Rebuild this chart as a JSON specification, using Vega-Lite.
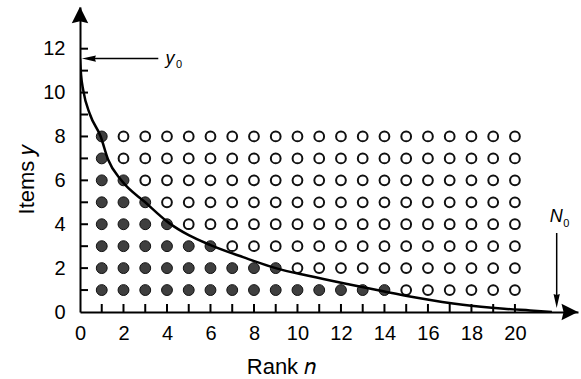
{
  "$schema": "https://vega.github.io/schema/vega-lite/v6.json",
  "width": 498,
  "height": 305,
  "autosize": "none",
  "padding": {"left": 80, "top": 7, "right": 3, "bottom": 67},
  "background": "white",
  "config": {
    "view": {"stroke": null},
    "font": "Liberation Sans",
    "axis": {
      "domainColor": "black", "domainWidth": 2,
      "grid": false, "labelFont": "Liberation Sans", "labelFontSize": 20, "labelColor": "black",
      "titleFont": "Liberation Sans", "titleFontSize": 22, "titleFontWeight": "normal", "titleColor": "black"
    }
  },
  "datasets": {
    "cells": [
      {"n":1,"y":1,"s":"f"},{"n":2,"y":1,"s":"f"},{"n":3,"y":1,"s":"f"},{"n":4,"y":1,"s":"f"},{"n":5,"y":1,"s":"f"},{"n":6,"y":1,"s":"f"},{"n":7,"y":1,"s":"f"},{"n":8,"y":1,"s":"f"},{"n":9,"y":1,"s":"f"},{"n":10,"y":1,"s":"f"},{"n":11,"y":1,"s":"f"},{"n":12,"y":1,"s":"f"},{"n":13,"y":1,"s":"f"},{"n":14,"y":1,"s":"f"},{"n":15,"y":1,"s":"o"},{"n":16,"y":1,"s":"o"},{"n":17,"y":1,"s":"o"},{"n":18,"y":1,"s":"o"},{"n":19,"y":1,"s":"o"},{"n":20,"y":1,"s":"o"},
      {"n":1,"y":2,"s":"f"},{"n":2,"y":2,"s":"f"},{"n":3,"y":2,"s":"f"},{"n":4,"y":2,"s":"f"},{"n":5,"y":2,"s":"f"},{"n":6,"y":2,"s":"f"},{"n":7,"y":2,"s":"f"},{"n":8,"y":2,"s":"f"},{"n":9,"y":2,"s":"f"},{"n":10,"y":2,"s":"o"},{"n":11,"y":2,"s":"o"},{"n":12,"y":2,"s":"o"},{"n":13,"y":2,"s":"o"},{"n":14,"y":2,"s":"o"},{"n":15,"y":2,"s":"o"},{"n":16,"y":2,"s":"o"},{"n":17,"y":2,"s":"o"},{"n":18,"y":2,"s":"o"},{"n":19,"y":2,"s":"o"},{"n":20,"y":2,"s":"o"},
      {"n":1,"y":3,"s":"f"},{"n":2,"y":3,"s":"f"},{"n":3,"y":3,"s":"f"},{"n":4,"y":3,"s":"f"},{"n":5,"y":3,"s":"f"},{"n":6,"y":3,"s":"f"},{"n":7,"y":3,"s":"o"},{"n":8,"y":3,"s":"o"},{"n":9,"y":3,"s":"o"},{"n":10,"y":3,"s":"o"},{"n":11,"y":3,"s":"o"},{"n":12,"y":3,"s":"o"},{"n":13,"y":3,"s":"o"},{"n":14,"y":3,"s":"o"},{"n":15,"y":3,"s":"o"},{"n":16,"y":3,"s":"o"},{"n":17,"y":3,"s":"o"},{"n":18,"y":3,"s":"o"},{"n":19,"y":3,"s":"o"},{"n":20,"y":3,"s":"o"},
      {"n":1,"y":4,"s":"f"},{"n":2,"y":4,"s":"f"},{"n":3,"y":4,"s":"f"},{"n":4,"y":4,"s":"f"},{"n":5,"y":4,"s":"o"},{"n":6,"y":4,"s":"o"},{"n":7,"y":4,"s":"o"},{"n":8,"y":4,"s":"o"},{"n":9,"y":4,"s":"o"},{"n":10,"y":4,"s":"o"},{"n":11,"y":4,"s":"o"},{"n":12,"y":4,"s":"o"},{"n":13,"y":4,"s":"o"},{"n":14,"y":4,"s":"o"},{"n":15,"y":4,"s":"o"},{"n":16,"y":4,"s":"o"},{"n":17,"y":4,"s":"o"},{"n":18,"y":4,"s":"o"},{"n":19,"y":4,"s":"o"},{"n":20,"y":4,"s":"o"},
      {"n":1,"y":5,"s":"f"},{"n":2,"y":5,"s":"f"},{"n":3,"y":5,"s":"f"},{"n":4,"y":5,"s":"o"},{"n":5,"y":5,"s":"o"},{"n":6,"y":5,"s":"o"},{"n":7,"y":5,"s":"o"},{"n":8,"y":5,"s":"o"},{"n":9,"y":5,"s":"o"},{"n":10,"y":5,"s":"o"},{"n":11,"y":5,"s":"o"},{"n":12,"y":5,"s":"o"},{"n":13,"y":5,"s":"o"},{"n":14,"y":5,"s":"o"},{"n":15,"y":5,"s":"o"},{"n":16,"y":5,"s":"o"},{"n":17,"y":5,"s":"o"},{"n":18,"y":5,"s":"o"},{"n":19,"y":5,"s":"o"},{"n":20,"y":5,"s":"o"},
      {"n":1,"y":6,"s":"f"},{"n":2,"y":6,"s":"f"},{"n":3,"y":6,"s":"o"},{"n":4,"y":6,"s":"o"},{"n":5,"y":6,"s":"o"},{"n":6,"y":6,"s":"o"},{"n":7,"y":6,"s":"o"},{"n":8,"y":6,"s":"o"},{"n":9,"y":6,"s":"o"},{"n":10,"y":6,"s":"o"},{"n":11,"y":6,"s":"o"},{"n":12,"y":6,"s":"o"},{"n":13,"y":6,"s":"o"},{"n":14,"y":6,"s":"o"},{"n":15,"y":6,"s":"o"},{"n":16,"y":6,"s":"o"},{"n":17,"y":6,"s":"o"},{"n":18,"y":6,"s":"o"},{"n":19,"y":6,"s":"o"},{"n":20,"y":6,"s":"o"},
      {"n":1,"y":7,"s":"f"},{"n":2,"y":7,"s":"o"},{"n":3,"y":7,"s":"o"},{"n":4,"y":7,"s":"o"},{"n":5,"y":7,"s":"o"},{"n":6,"y":7,"s":"o"},{"n":7,"y":7,"s":"o"},{"n":8,"y":7,"s":"o"},{"n":9,"y":7,"s":"o"},{"n":10,"y":7,"s":"o"},{"n":11,"y":7,"s":"o"},{"n":12,"y":7,"s":"o"},{"n":13,"y":7,"s":"o"},{"n":14,"y":7,"s":"o"},{"n":15,"y":7,"s":"o"},{"n":16,"y":7,"s":"o"},{"n":17,"y":7,"s":"o"},{"n":18,"y":7,"s":"o"},{"n":19,"y":7,"s":"o"},{"n":20,"y":7,"s":"o"},
      {"n":1,"y":8,"s":"f"},{"n":2,"y":8,"s":"o"},{"n":3,"y":8,"s":"o"},{"n":4,"y":8,"s":"o"},{"n":5,"y":8,"s":"o"},{"n":6,"y":8,"s":"o"},{"n":7,"y":8,"s":"o"},{"n":8,"y":8,"s":"o"},{"n":9,"y":8,"s":"o"},{"n":10,"y":8,"s":"o"},{"n":11,"y":8,"s":"o"},{"n":12,"y":8,"s":"o"},{"n":13,"y":8,"s":"o"},{"n":14,"y":8,"s":"o"},{"n":15,"y":8,"s":"o"},{"n":16,"y":8,"s":"o"},{"n":17,"y":8,"s":"o"},{"n":18,"y":8,"s":"o"},{"n":19,"y":8,"s":"o"},{"n":20,"y":8,"s":"o"}
    ],
    "curve": [
      {"n":0,"y":11.55},{"n":0.05,"y":10.8},{"n":0.15,"y":10.1},{"n":0.46,"y":9.0},{"n":0.95,"y":8.0},{"n":1.29,"y":6.95},{"n":1.9,"y":6.0},{"n":3.0,"y":5.0},{"n":4.1,"y":4.05},{"n":5.0,"y":3.5},{"n":6.0,"y":3.05},{"n":7.5,"y":2.5},{"n":9.0,"y":2.0},{"n":10.5,"y":1.65},{"n":12.4,"y":1.25},{"n":14.0,"y":0.93},{"n":15.5,"y":0.65},{"n":17.6,"y":0.33},{"n":19.5,"y":0.15},{"n":20.7,"y":0.07},{"n":21.7,"y":0.0}
    ],
    "xticks": [{"n":1},{"n":2},{"n":3},{"n":4},{"n":5},{"n":6},{"n":7},{"n":8},{"n":9},{"n":10},{"n":11},{"n":12},{"n":13},{"n":14},{"n":15},{"n":16},{"n":17},{"n":18},{"n":19},{"n":20}],
    "yticks": [{"y":1},{"y":2},{"y":3},{"y":4},{"y":5},{"y":6},{"y":7},{"y":8},{"y":9},{"y":10},{"y":11},{"y":12}]
  },
  "layer": [
    {"data": {"name": "cells"}, "transform": [{"filter": "datum.s == 'o'"}],
     "mark": {"type": "point", "shape": "circle", "filled": true, "fill": "white", "stroke": "#111", "strokeWidth": 2, "size": 95, "opacity": 1},
     "encoding": {
       "x": {"field": "n", "type": "quantitative", "scale": {"domain": [0, 22.9], "nice": false, "zero": false},
         "axis": {"values": [0,2,4,6,8,10,12,14,16,18,20], "ticks": false, "labelPadding": 11,
           "title": "Rank 𝑛", "titleX": 201, "titleY": 61, "titleBaseline": "alphabetic", "titleAlign": "center", "labelFlush": false, "labelOverlap": false}},
       "y": {"field": "y", "type": "quantitative", "scale": {"domain": [0, 13.9], "nice": false, "zero": false},
         "axis": {"values": [0,2,4,6,8,10,12], "ticks": false, "labelPadding": 15,
           "title": "Items 𝑦", "titleX": -47, "titleY": 172, "titleBaseline": "alphabetic", "titleAlign": "center", "labelFlush": false, "labelOverlap": false}}
     }},
    {"data": {"name": "cells"}, "transform": [{"filter": "datum.s == 'f'"}],
     "mark": {"type": "point", "shape": "circle", "filled": true, "fill": "#3f3f3f", "stroke": "#111", "strokeWidth": 1, "size": 118, "opacity": 1},
     "encoding": {"x": {"field": "n", "type": "quantitative"}, "y": {"field": "y", "type": "quantitative"}}},
    {"data": {"name": "xticks"},
     "mark": {"type": "tick", "orient": "vertical", "size": 8, "thickness": 2, "color": "black", "opacity": 1, "yOffset": -4},
     "encoding": {"x": {"field": "n", "type": "quantitative"}, "y": {"datum": 0}}},
    {"data": {"name": "yticks"},
     "mark": {"type": "tick", "orient": "horizontal", "size": 8, "thickness": 2, "color": "black", "opacity": 1, "xOffset": 4},
     "encoding": {"y": {"field": "y", "type": "quantitative"}, "x": {"datum": 0}}},
    {"data": {"name": "curve"}, "mark": {"type": "line", "interpolate": "monotone", "color": "black", "strokeWidth": 2.5, "clip": true},
     "encoding": {"x": {"field": "n", "type": "quantitative"}, "y": {"field": "y", "type": "quantitative"}}},
    {"data": {"values": [{"n": 0.41, "y": 11.55, "n2": 3.6, "y2": 11.55}, {"n": 21.92, "y": 0.5, "n2": 21.92, "y2": 3.6}]},
     "mark": {"type": "rule", "color": "black", "strokeWidth": 1.5},
     "encoding": {"x": {"field": "n", "type": "quantitative"}, "y": {"field": "y", "type": "quantitative"}, "x2": {"field": "n2"}, "y2": {"field": "y2"}}},
    {"data": {"values": [{"n": 0, "y": 13.53}]},
     "mark": {"type": "point", "shape": "M0,-1L1,1L0,0.75L-1,1Z", "filled": true, "fill": "black", "strokeWidth": 0, "size": 272, "opacity": 1},
     "encoding": {"x": {"field": "n", "type": "quantitative"}, "y": {"field": "y", "type": "quantitative"}}},
    {"data": {"values": [{"n": 22.52, "y": 0}]},
     "mark": {"type": "point", "shape": "M1,0L-1,1L-0.75,0L-1,-1Z", "filled": true, "fill": "black", "strokeWidth": 0, "size": 272, "opacity": 1},
     "encoding": {"x": {"field": "n", "type": "quantitative"}, "y": {"field": "y", "type": "quantitative"}}},
    {"data": {"values": [{"n": 0.41, "y": 11.55}]},
     "mark": {"type": "point", "shape": "M-1,0L1,-0.45L0.85,0L1,0.45Z", "filled": true, "fill": "black", "strokeWidth": 0, "size": 196, "opacity": 1},
     "encoding": {"x": {"field": "n", "type": "quantitative"}, "y": {"field": "y", "type": "quantitative"}}},
    {"data": {"values": [{"n": 21.92, "y": 0.5}]},
     "mark": {"type": "point", "shape": "M0,1L-0.45,-1L0,-0.85L0.45,-1Z", "filled": true, "fill": "black", "strokeWidth": 0, "size": 196, "opacity": 1},
     "encoding": {"x": {"field": "n", "type": "quantitative"}, "y": {"field": "y", "type": "quantitative"}}},
    {"data": {"values": [{"n": 4.14, "y": 11.3, "t": "y"}, {"n": 21.9, "y": 4.1, "t": "N"}]},
     "mark": {"type": "text", "font": "Liberation Sans", "fontStyle": "italic", "fontSize": 18, "align": "center", "baseline": "alphabetic", "color": "black"},
     "encoding": {"x": {"field": "n", "type": "quantitative"}, "y": {"field": "y", "type": "quantitative"}, "text": {"field": "t"}}},
    {"data": {"values": [{"n": 4.14, "y": 11.3, "t": "0"}]},
     "mark": {"type": "text", "font": "Liberation Sans", "fontSize": 11, "align": "left", "baseline": "alphabetic", "dx": 6, "dy": 4, "color": "black"},
     "encoding": {"x": {"field": "n", "type": "quantitative"}, "y": {"field": "y", "type": "quantitative"}, "text": {"field": "t"}}},
    {"data": {"values": [{"n": 21.9, "y": 4.1, "t": "0"}]},
     "mark": {"type": "text", "font": "Liberation Sans", "fontSize": 11, "align": "left", "baseline": "alphabetic", "dx": 7, "dy": 5, "color": "black"},
     "encoding": {"x": {"field": "n", "type": "quantitative"}, "y": {"field": "y", "type": "quantitative"}, "text": {"field": "t"}}}
  ]
}
